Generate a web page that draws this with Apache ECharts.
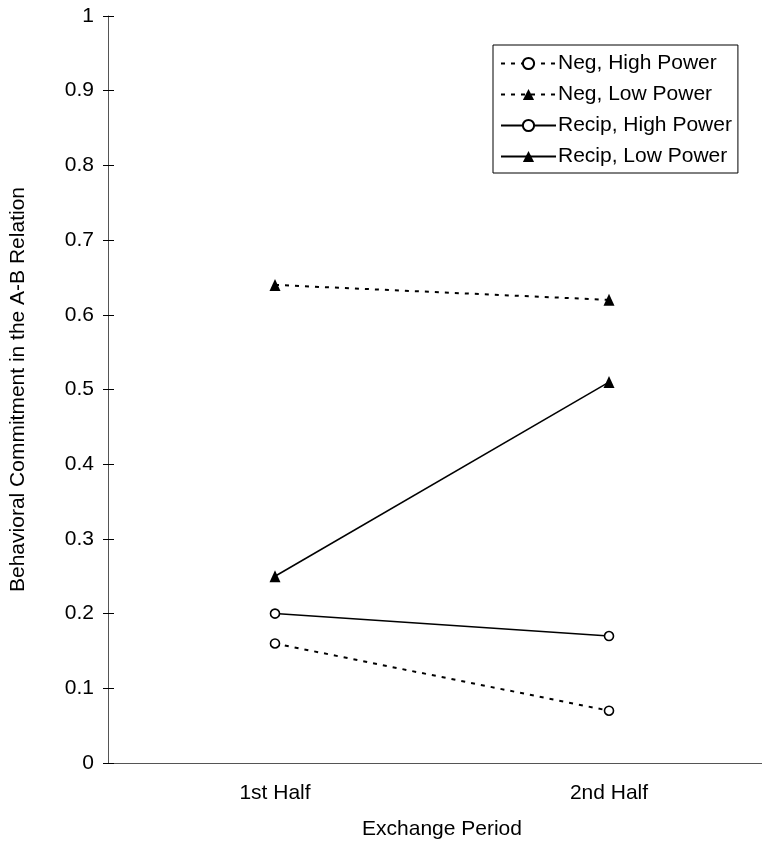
<!DOCTYPE html>
<html>
<head>
<meta charset="utf-8">
<script src="https://cdn.jsdelivr.net/npm/echarts@6/dist/echarts.min.js"></script>
<style>
  html, body { margin: 0; padding: 0; background: #fff; overflow: hidden; }
  #main { width: 776px; height: 847px; }
</style>
</head>
<body>
<div id="main"></div>
<script>
// data
var periods = ['1st Half', '2nd Half'];
var negHigh = [0.16, 0.07];
var negLow = [0.64, 0.62];
var recipHigh = [0.20, 0.17];
var recipLow = [0.25, 0.51];

// the plot area runs past the right edge of the picture, so the div is a bit wider than the window
var chart = echarts.init(document.getElementById('main'), null, { renderer: 'canvas' });

function mkSeries(name, data, dashed, symbol) {
  var isCircle = symbol === 'circle';
  return {
    name: name,
    type: 'line',
    data: data,
    symbol: isCircle ? 'circle' : 'triangle',
    symbolSize: isCircle ? 9 : [11, 12],
    showAllSymbol: true,
    lineStyle: {
      color: '#000',
      width: dashed ? 2 : 1.5,
      type: dashed ? [4, 6] : 'solid'
    },
    itemStyle: {
      color: isCircle ? '#fff' : '#000',
      borderColor: '#000',
      borderWidth: isCircle ? 1.6 : 0
    },
    emphasis: { disabled: true },
    animation: false
  };
}

var option = {
  backgroundColor: '#fff',
  textStyle: { fontFamily: 'Liberation Sans, Arial, sans-serif', color: '#000' },
  grid: { left: 108, top: 16, right: 0, bottom: 84, containLabel: false },
  legend: {
    orient: 'vertical',
    left: 493,
    top: 45,
    padding: [8, 6, 6, 7],
    itemGap: 10,
    itemWidth: 55,
    itemHeight: 14,
    borderColor: '#000',
    borderWidth: 1,
    borderRadius: 0,
    backgroundColor: '#fff',
    selectedMode: false,
    textStyle: { fontSize: 21, color: '#000', padding: [0, 0, 0, -3] },
    data: ['Neg, High Power', 'Neg, Low Power', 'Recip, High Power', 'Recip, Low Power']
  },
  xAxis: {
    type: 'category',
    data: periods,
    boundaryGap: true,
    name: 'Exchange Period',
    nameLocation: 'middle',
    nameGap: 56,
    nameTextStyle: { fontSize: 21, color: '#000' },
    axisLine: { lineStyle: { color: '#555', width: 1 } },
    axisTick: { show: false },
    axisLabel: { fontSize: 21, color: '#000', margin: 20 },
    splitLine: { show: false }
  },
  yAxis: [{
    type: 'value',
    min: 0,
    max: 1,
    interval: 0.1,
    name: 'Behavioral Commitment in the A-B Relation',
    nameLocation: 'middle',
    nameGap: 79,
    nameRotate: 90,
    nameTextStyle: { fontSize: 21, color: '#000' },
    axisLine: { show: true, lineStyle: { color: '#555', width: 1 } },
    axisTick: { show: true, length: 5, lineStyle: { color: '#000' } },
    axisLabel: { fontSize: 21, color: '#000', margin: 14 },
    splitLine: { show: false }
  }, {
    type: 'value',
    position: 'left',
    min: 0,
    max: 1,
    interval: 0.1,
    axisLine: { show: false },
    axisTick: { show: true, inside: true, length: 6, lineStyle: { color: '#000' } },
    axisLabel: { show: false },
    splitLine: { show: false }
  }],
  series: [
    mkSeries('Neg, High Power', negHigh, true, 'circle'),
    mkSeries('Neg, Low Power', negLow, true, 'triangle'),
    mkSeries('Recip, High Power', recipHigh, false, 'circle'),
    mkSeries('Recip, Low Power', recipLow, false, 'triangle')
  ]
};

chart.setOption(option);
</script>
</body>
</html>
